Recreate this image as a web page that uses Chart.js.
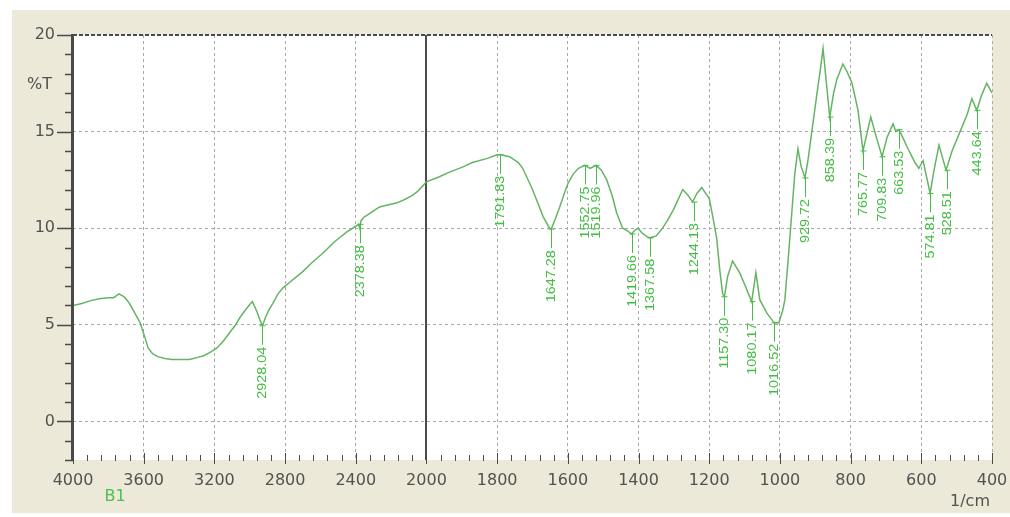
<!DOCTYPE html>
<html>
<head>
<meta charset="utf-8">
<title>FTIR spectrum B1</title>
<script src="https://cdn.jsdelivr.net/npm/chart.js@4.4.1/dist/chart.umd.min.js"></script>
<style>
  html, body { margin: 0; padding: 0; background: #fff; }
  #wrap { width: 1010px; height: 517px; }
</style>
</head>
<body>
<div id="wrap"><canvas id="spectrum"></canvas></div>
<script>
// spectrum, wavenumber (1/cm) and %T
const wavenumbers = [
  4000, 3950, 3900, 3850, 3800, 3770, 3740, 3710, 3680, 3650, 3620, 3595, 3575, 3550, 3520,
  3480, 3440, 3400, 3340, 3300, 3260, 3220, 3185, 3150, 3113, 3080, 3057, 3030, 3000, 2985,
  2960, 2940, 2928, 2910, 2890, 2870, 2840, 2813, 2780, 2740, 2700, 2650, 2587, 2520, 2452,
  2400, 2384, 2378, 2370, 2350, 2339, 2300, 2265, 2220, 2170, 2120, 2080, 2057, 2030, 2000,
  1965, 1935, 1900, 1870, 1830, 1800, 1790, 1765, 1740, 1728, 1715, 1700, 1685, 1670, 1652,
  1647, 1635, 1623, 1610, 1600, 1585, 1570, 1558, 1552, 1537, 1520, 1505, 1490, 1475, 1462,
  1445, 1430, 1420, 1410, 1402, 1390, 1375, 1368, 1350, 1332, 1318, 1303, 1290, 1275, 1260,
  1247, 1235, 1221, 1210, 1200, 1190, 1179, 1170, 1162, 1157, 1148, 1134, 1114, 1100, 1080,
  1068, 1057, 1037, 1016, 1003, 992, 986, 977, 966, 958, 949, 940, 929, 920, 909,
  895, 885, 878, 870, 859, 848, 839, 822, 810, 796, 779, 765, 743, 727, 711,
  697, 680, 672, 663, 650, 640, 618, 607, 595, 575, 564, 550, 530, 513, 488,
  470, 457, 443, 429, 415, 400
];
const transmittance = [
  6.0, 6.1, 6.25, 6.35, 6.4, 6.4, 6.6, 6.45, 6.1, 5.6, 5.1, 4.4, 3.8, 3.5, 3.35,
  3.25, 3.2, 3.2, 3.2, 3.3, 3.4, 3.6, 3.8, 4.15, 4.6, 5.0, 5.35, 5.7, 6.05, 6.2,
  5.7, 5.2, 4.95, 5.4, 5.8, 6.1, 6.6, 6.9, 7.15, 7.45, 7.75, 8.2, 8.7, 9.3, 9.8,
  10.1, 10.2, 10.0, 10.4, 10.6, 10.65, 10.9, 11.1, 11.2, 11.3, 11.5, 11.7, 11.85, 12.1, 12.4,
  12.65, 12.9, 13.15, 13.4, 13.6, 13.8, 13.8, 13.7, 13.4, 13.1, 12.6, 12.0, 11.3, 10.6, 10.0,
  9.95, 10.5, 11.1, 11.8, 12.3, 12.8, 13.1, 13.2, 13.25, 13.1, 13.25, 13.0, 12.5, 11.7, 10.8,
  10.0, 9.85, 9.7, 9.9, 10.0, 9.75, 9.55, 9.5, 9.6, 10.0, 10.4, 10.9, 11.4, 12.0, 11.7,
  11.35, 11.8, 12.1, 11.8, 11.55, 10.6, 9.5, 7.8, 6.6, 6.45, 7.5, 8.3, 7.7, 7.1, 6.2,
  7.7, 6.3, 5.6, 5.1, 5.1, 5.75, 6.3, 8.3, 10.9, 12.8, 14.1, 13.2, 12.6, 13.6, 15.1,
  17.0, 18.3, 19.3, 17.8, 15.75, 17.0, 17.7, 18.5, 18.1, 17.5, 16.1, 14.0, 15.75, 14.7, 13.7,
  14.7, 15.4, 15.0, 15.1, 14.6, 14.2, 13.4, 13.1, 13.5, 11.8, 13.0, 14.3, 13.0, 14.0, 15.1,
  15.9, 16.7, 16.1, 16.9, 17.5, 17.0
];

// labelled peaks
const peakWavenumbers = [
  2928.04, 2378.38, 1791.83, 1647.28, 1552.75, 1519.96, 1419.66, 1367.58, 1244.13, 1157.30,
  1080.17, 1016.52, 929.72, 858.39, 765.77, 709.83, 663.53, 574.81, 528.51, 443.64
];
const peakTransmittance = [
  4.95, 10.2, 13.8, 9.95, 13.25, 13.25, 9.7, 9.5, 11.35, 6.45,
  6.2, 5.1, 12.6, 15.75, 14.0, 13.7, 15.1, 11.8, 13.0, 16.1
];

const xTickValues = [4000, 3600, 3200, 2800, 2400, 2000, 1800, 1600, 1400, 1200, 1000, 800, 600, 400];
const yTickValues = [20, 15, 10, 5, 0];
const sampleName = 'B1';

// x axis is compressed 2:1 above 2000 1/cm
const BREAK = 2000, X_HI = 4000, X_LO = 400;
const SPAN = (X_HI - BREAK) / 2 + (BREAK - X_LO);

class BrokenScale extends Chart.LinearScale {
  getPixelForValue(value) {
    const d = value >= BREAK ? (X_HI - value) / 2 : (X_HI - BREAK) / 2 + (BREAK - value);
    return this.getPixelForDecimal(d / SPAN);
  }
  getValueForPixel(pixel) {
    const d = this.getDecimalForPixel(pixel) * SPAN;
    const half = (X_HI - BREAK) / 2;
    return d <= half ? X_HI - d * 2 : BREAK - (d - half);
  }
}
BrokenScale.id = 'broken';
BrokenScale.defaults = Chart.LinearScale.defaults;
Chart.register(BrokenScale);

const TICK_FONT = { family: 'DejaVu Sans', size: 16 };
const TICK_COLOR = '#525252';
const AXIS_COLOR = '#4a4a4a';

const frame = {
  id: 'frame',
  beforeDraw(chart) {
    const { ctx, chartArea: a } = chart;
    ctx.save();
    ctx.fillStyle = '#ece9d8';
    ctx.fillRect(12, 10, chart.width - 12, 503);
    ctx.fillStyle = '#fff';
    ctx.fillRect(a.left, a.top, a.right - a.left, a.bottom - a.top);
    ctx.restore();
  },
  beforeDatasetsDraw(chart) {
    const { ctx, chartArea: a, scales: { x } } = chart;
    const px = Math.round(x.getPixelForValue(2000));
    ctx.save();
    ctx.strokeStyle = AXIS_COLOR;
    ctx.lineWidth = 2;
    ctx.beginPath();
    ctx.moveTo(px, a.top);
    ctx.lineTo(px, a.bottom);
    ctx.stroke();
    // top frame, heavy dashes
    ctx.setLineDash([4, 2]);
    ctx.beginPath();
    ctx.moveTo(a.left, a.top);
    ctx.lineTo(a.right, a.top);
    ctx.stroke();
    ctx.restore();
  },
  afterDatasetsDraw(chart) {
    const { ctx, chartArea: a, scales: { x, y } } = chart;
    ctx.save();
    // left axis line with ticks
    ctx.strokeStyle = AXIS_COLOR;
    ctx.lineWidth = 3;
    ctx.beginPath();
    ctx.moveTo(a.left - 0.5, a.top - 1);
    ctx.lineTo(a.left - 0.5, a.bottom);
    ctx.stroke();
    ctx.lineWidth = 1.5;
    for (let v = 20; v >= -2; v--) {
      const py = Math.round(y.getPixelForValue(v)) + 0.5;
      const len = v % 5 === 0 ? 16 : 8;
      ctx.beginPath();
      ctx.moveTo(a.left - len, py);
      ctx.lineTo(a.left, py);
      ctx.stroke();
    }
    // bottom ticks, minor every 80 above the break and 40 below it
    ctx.lineWidth = 1;
    for (let v = X_HI; v >= X_LO; v -= (v > BREAK ? 80 : 40)) {
      const px = Math.round(x.getPixelForValue(v)) + 0.5;
      const major = xTickValues.includes(v);
      ctx.beginPath();
      ctx.moveTo(px, a.bottom - (major ? 7 : 5));
      ctx.lineTo(px, a.bottom + (major ? 4 : 1));
      ctx.stroke();
    }
    // axis titles
    ctx.font = '16px "DejaVu Sans"';
    ctx.fillStyle = TICK_COLOR;
    ctx.textAlign = 'right';
    ctx.textBaseline = 'middle';
    ctx.fillText('%T', 52, y.getPixelForValue(17.4));
    ctx.fillText('1/cm', 990, 502);
    ctx.fillStyle = '#4cc04c';
    ctx.textAlign = 'center';
    ctx.fillText(sampleName, 115, 497);
    // peak labels, narrow vertical text
    ctx.font = '12px "Liberation Sans"';
    ctx.fillStyle = ctx.strokeStyle = '#45bd45';
    ctx.lineWidth = 1;
    peakWavenumbers.forEach((wn, i) => {
      const px = Math.round(x.getPixelForValue(wn)) + 0.5;
      const py = y.getPixelForValue(peakTransmittance[i]);
      ctx.beginPath();
      ctx.moveTo(px - 3, py);
      ctx.lineTo(px + 3, py);
      ctx.moveTo(px, py);
      ctx.lineTo(px, py + 19);
      ctx.stroke();
      ctx.save();
      ctx.translate(px, py + 21);
      ctx.rotate(-Math.PI / 2);
      ctx.scale(1.2, 1);
      ctx.textAlign = 'right';
      ctx.textBaseline = 'middle';
      ctx.fillText(wn.toFixed(2), 0, 0);
      ctx.restore();
    });
    ctx.restore();
  }
};

new Chart(document.getElementById('spectrum'), {
  type: 'line',
  data: {
    datasets: [{
      label: sampleName,
      data: wavenumbers.map((wn, i) => ({ x: wn, y: transmittance[i] })),
      borderColor: '#64b464',
      borderWidth: 1.5,
      pointRadius: 0,
      tension: 0,
      fill: false
    }]
  },
  options: {
    responsive: true,
    maintainAspectRatio: false,
    animation: false,
    events: [],
    layout: { padding: { left: 0, top: 35, right: 18, bottom: 0 } },
    plugins: { legend: { display: false }, tooltip: { enabled: false } },
    scales: {
      x: {
        type: 'broken',
        min: X_LO,
        max: X_HI,
        afterFit: s => { s.height = 57; s.paddingLeft = 0; s.paddingRight = 0; },
        afterBuildTicks: s => { s.ticks = xTickValues.map(v => ({ value: v })); },
        ticks: {
          autoSkip: false,
          maxRotation: 0,
          padding: 11,
          color: TICK_COLOR,
          font: TICK_FONT,
          callback: v => String(v)
        },
        grid: {
          drawTicks: false,
          color: c => (c.tick && (c.tick.value === 2000 || c.tick.value === 4000)) ? 'rgba(0,0,0,0)' : '#a8a8a8',
          lineWidth: 1
        },
        border: { display: false, dash: [3, 3] }
      },
      y: {
        min: -2,
        max: 20,
        afterFit: s => { s.width = 73; s.paddingTop = 0; s.paddingBottom = 0; },
        afterBuildTicks: s => { s.ticks = yTickValues.map(v => ({ value: v })); },
        ticks: {
          padding: 18,
          color: TICK_COLOR,
          font: TICK_FONT,
          callback: v => String(v)
        },
        grid: {
          drawTicks: false,
          color: c => (c.tick && c.tick.value === 20) ? 'rgba(0,0,0,0)' : '#a8a8a8',
          lineWidth: 1
        },
        border: { display: false, dash: [3, 3] }
      }
    }
  },
  plugins: [frame]
});
</script>
</body>
</html>
